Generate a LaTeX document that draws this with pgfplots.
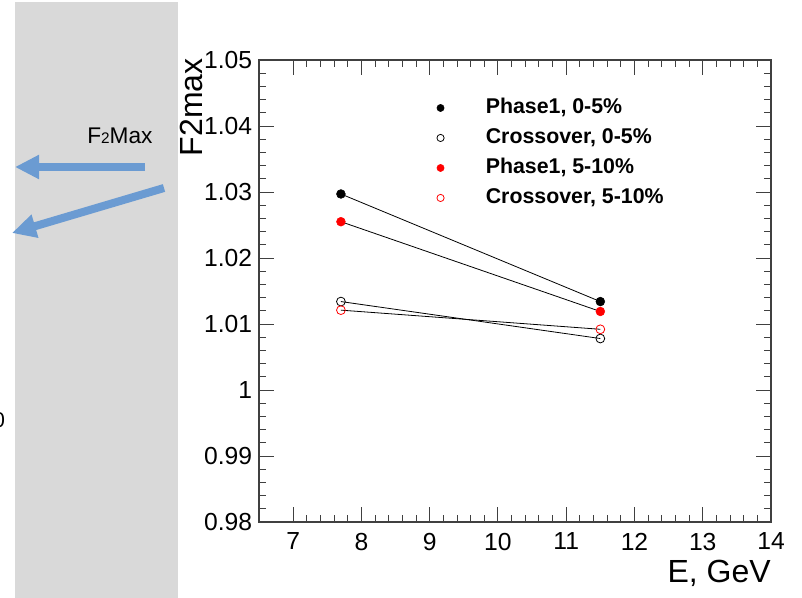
\documentclass[border=0pt]{standalone}
\usepackage{pgfplots}
\pgfplotsset{compat=1.18}
\usepackage{fontspec}
\setmainfont{Liberation Sans}
\usetikzlibrary{arrows.meta}
\definecolor{panelgray}{HTML}{D9D9D9}
\definecolor{arrowblue}{HTML}{6B9BD2}
\definecolor{rootred}{HTML}{FF0000}

\begin{document}
\begin{tikzpicture}
% left panel, drawn in pixel units (y down)
\begin{scope}[x=0.75pt,y=-0.75pt]
  \useasboundingbox (0,0) rectangle (802,598);
  \clip (0,0) rectangle (802,598);
  \fill[panelgray] (15,2) rectangle (178,598);
  \draw[arrowblue, line width=6pt, -{Triangle[length=18pt,width=17pt]}] (145,167) -- (15,167);
  \draw[arrowblue, line width=6pt, -{Triangle[length=18pt,width=17pt]}] (164,188) -- (12,233);
  \node[anchor=base west, inner sep=0pt, font=\fontsize{17}{17}\selectfont] at (87,144)
    {F{\fontsize{11.5}{11.5}\selectfont 2}Max};
  \node[anchor=base, inner sep=0pt, font=\fontsize{16}{16}\selectfont] at (-1,427) {0};
\end{scope}

\begin{axis}[
  at={(194.25pt,-391.5pt)}, anchor=south west,
  scale only axis, width=384pt, height=346.5pt,
  xmin=6.5, xmax=14, ymin=0.98, ymax=1.05,
  xtick={7,8,9,10,11,12,13,14},
  xticklabels={7,8,9,10,11,12,13,14},
  ytick={0.98,0.99,1,1.01,1.02,1.03,1.04,1.05},
  yticklabels={0.98,0.99,1,1.01,1.02,1.03,1.04,1.05},
  minor x tick num=4, minor y tick num=4,
  tick align=inside, xtick pos=both, ytick pos=both,
  major tick length=11pt, minor tick length=5.5pt,
  axis line style={black!75, line width=0.8pt},
  every tick/.style={black!75, line width=0.7pt},
  tick label style={font=\fontsize{18.5}{18.5}\selectfont},
  yticklabel style={inner sep=0pt, xshift=-5pt},
  xticklabel style={inner sep=0pt, yshift=-8pt},
  xlabel={E, GeV}, ylabel={F2max},
  every axis x label/.style={at={(axis description cs:1,-0.132)}, anchor=base east,
    inner sep=0pt, font=\fontsize{24}{24}\selectfont},
  every axis y label/.style={at={(axis description cs:-0.111,1.004)}, rotate=90,
    anchor=base east, inner sep=0pt, font=\fontsize{24}{24}\selectfont},
  legend style={at={(axis description cs:0.3379,0.9242)}, anchor=north west,
    draw=none, fill=none, row sep=7.5pt,
    nodes={inner sep=0pt, text height=12pt, text depth=3pt},
    font=\bfseries\fontsize{16}{16}\selectfont,
    /tikz/every odd column/.append style={column sep=30.75pt}},
  legend cell align=left,
  legend image code/.code={\path (0pt,0pt) (6pt,0pt); \draw[#1, mark size=2.7pt] plot coordinates {(3pt,0pt)};},
]
% connecting lines
\addplot[black, line width=0.6pt, forget plot] coordinates {(7.7,1.0297) (11.5,1.0134)};
\addplot[black, line width=0.6pt, forget plot] coordinates {(7.7,1.0134) (11.5,1.0078)};
\addplot[black, line width=0.6pt, forget plot] coordinates {(7.7,1.0255) (11.5,1.0119)};
\addplot[black, line width=0.6pt, forget plot] coordinates {(7.7,1.0121) (11.5,1.0092)};
% markers
\addplot[only marks, mark=*, mark size=3.3pt, mark options={fill=black, draw=black}]
  coordinates {(7.7,1.0297) (11.5,1.0134)};
\addlegendentry{Phase1, 0-5\%}
\addplot[only marks, mark=o, mark size=3.3pt, mark options={draw=black, line width=0.6pt}]
  coordinates {(7.7,1.0134) (11.5,1.0078)};
\addlegendentry{Crossover, 0-5\%}
\addplot[only marks, mark=*, mark size=3.3pt, mark options={fill=rootred, draw=rootred}]
  coordinates {(7.7,1.0255) (11.5,1.0119)};
\addlegendentry{Phase1, 5-10\%}
\addplot[only marks, mark=o, mark size=3.3pt, mark options={draw=rootred, line width=0.6pt}]
  coordinates {(7.7,1.0121) (11.5,1.0092)};
\addlegendentry{Crossover, 5-10\%}
\end{axis}
\end{tikzpicture}
\end{document}
